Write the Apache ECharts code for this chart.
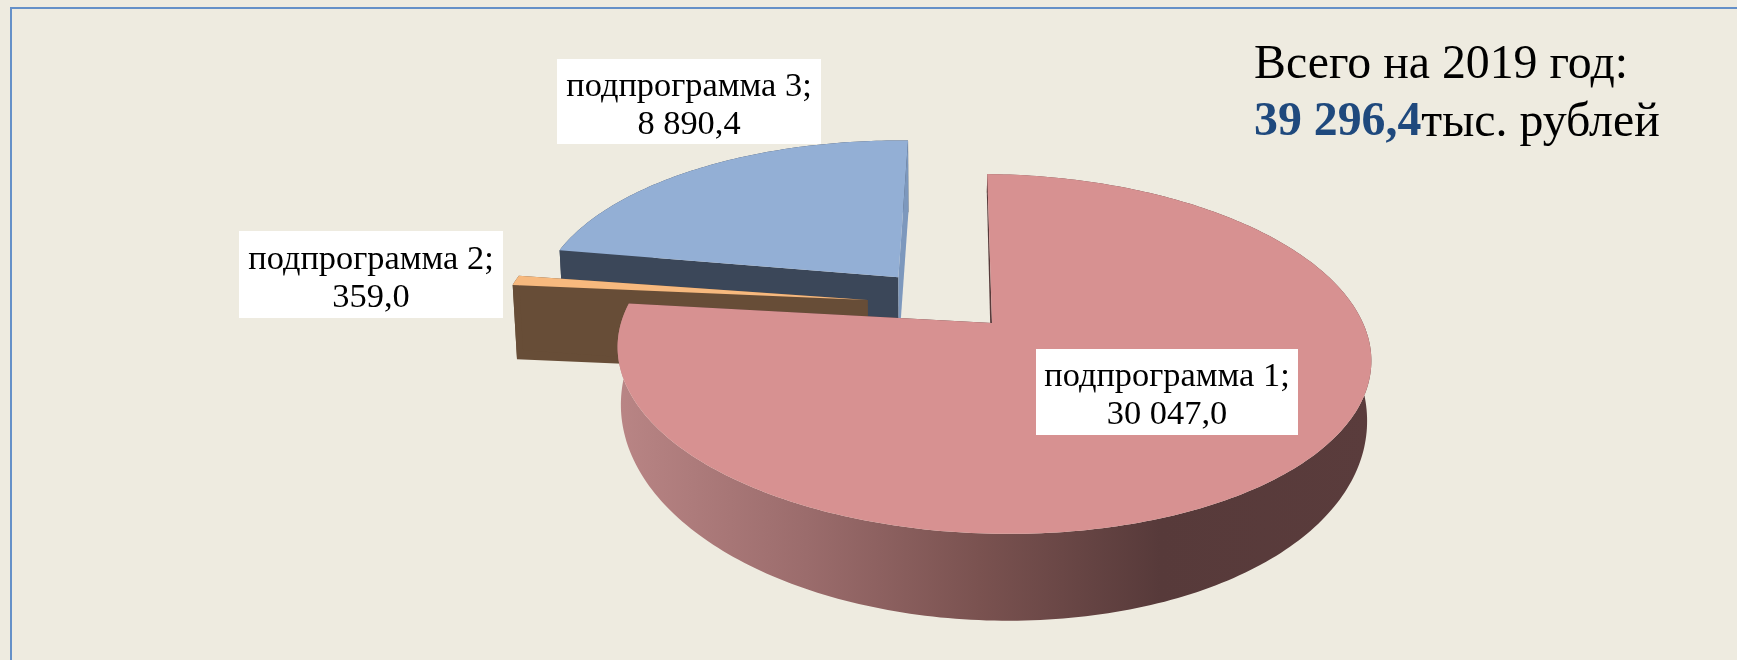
<!DOCTYPE html>
<html>
<head>
	<meta charset="UTF-8">
	<script type="text/javascript" src="https://cdn.jsdelivr.net/npm/echarts@6/dist/echarts.min.js"></script>
	<title></title>
	<style type="text/css">
		html,body{
			margin:0;
			padding:0;
			background:#eeebe0;
		}
		#pie_box{
			width:1737px;
			height:660px;
		}
	</style>
</head>
<body>
<div id="pie_box"></div>
<script type="text/javascript">
// data
var names = ['подпрограмма 1', 'подпрограмма 2', 'подпрограмма 3'];
var values = [30047.0, 359.0, 8890.4];
var totalTitle = 'Всего на 2019 год:';
var totalUnit = 'тыс. рублей';

// look of each slice, same order as values
var topColors = ['#d79191', '#f7b97e', '#93afd5'];
var cutColors = ['#573a3a', '#674d37', '#3b4759'];
var backColors = ['#573a3a', '#674d37', '#7d98bd'];
var explodeX = [0, -0.338, -0.254];
var explodeY = [0, -0.135, -0.275];
var nudgeDeg = [0, -1.3, 0.2];
var zOrder = [30, 20, 10];
var labelBoxes = [[1036, 349, 262, 86], [239, 231, 264, 87], [557, 59, 264, 85]];
// height of the wall, front of the big slice looks taller than its sides
var dropBase = [53, 74, 70];
var dropTilt = [36, 0, 0];

// fake 3d pie: unit disc seen in perspective
var cx = 992, cy = 323, rx = 371, ry = 174.6, shear = 14, persp = 0.172;
var shrink = 0.99, vanishX = 945;
var startDeg = 1.3;
var serif = '"Liberation Serif"';

var total = values.reduce(function (a, b) { return a + b; }, 0);

function project(x, y, drop) {
	var w = 1 - persp * y;
	var px = cx + (rx * x + shear * y) / w;
	var py = cy + ry * y / w;
	if (drop !== undefined) {
		px = vanishX + (px - vanishX) * shrink;
		py = cy + (py - cy) * shrink + drop;
	}
	return [px, py];
}

function formatValue(v) {
	var parts = v.toFixed(1).split('.');
	return parts[0].replace(/\B(?=(\d{3})+$)/g, ' ') + ',' + parts[1];
}

function renderSlice(params, api) {
	var i = params.dataIndex;
	var from = api.value(1) + nudgeDeg[i], to = api.value(2) + nudgeDeg[i];
	var ox = explodeX[i], oy = explodeY[i];
	var base = zOrder[i];
	var kids = [];

	function rimPoint(deg, low) {
		var a = deg * Math.PI / 180;
		var x = Math.sin(a), y = -Math.cos(a);
		return project(ox + x, oy + y, low ? dropBase[i] + dropTilt[i] * y : undefined);
	}
	function rim(low) {
		var pts = [];
		var n = Math.ceil(to - from);
		for (var k = 0; k <= n; k++) {
			pts.push(rimPoint(from + (to - from) * k / n, low));
		}
		return pts;
	}
	var hub = project(ox, oy);
	var hubLow = project(ox, oy, dropBase[i]);

	function wall(deg, color, order) {
		kids.push({
			type: 'polygon', z2: base + order,
			shape: { points: [hub, rimPoint(deg, false), rimPoint(deg, true), hubLow] },
			style: { fill: color }
		});
	}

	var wallFill = cutColors[i];
	if (i === 0) {
		// outer wall of the big slice goes from light to dark
		wallFill = new echarts.graphic.LinearGradient(0, 0, 1, 0, [
			{ offset: 0, color: '#b98585' },
			{ offset: 0.25, color: '#9b6c6c' },
			{ offset: 0.48, color: '#7a5250' },
			{ offset: 0.72, color: '#573a3a' },
			{ offset: 1, color: '#5a3c3c' }
		]);
	}
	var rimHigh = rim(false);
	kids.push({
		type: 'polygon', z2: base + 1,
		shape: { points: rimHigh.concat(rim(true).reverse()) },
		style: { fill: wallFill }
	});
	wall(from, cutColors[i], 2);
	wall(to, backColors[i], 2);
	kids.push({
		type: 'polygon', z2: base + 4,
		shape: { points: [hub].concat(rimHigh) },
		style: { fill: topColors[i] }
	});

	var box = labelBoxes[i];
	kids.push({
		type: 'rect', z2: 100,
		shape: { x: box[0], y: box[1], width: box[2], height: box[3] },
		style: { fill: '#ffffff' }
	});
	kids.push({
		type: 'text', z2: 101,
		x: box[0] + box[2] / 2,
		y: box[1] + box[3] / 2 + 4,
		style: {
			text: names[i] + ';\n' + formatValue(api.value(0)),
			fill: '#000000',
			font: '34.4px ' + serif,
			lineHeight: 38,
			align: 'center',
			verticalAlign: 'middle'
		}
	});
	return { type: 'group', children: kids };
}

var rows = [];
var acc = startDeg;
values.forEach(function (v) {
	var sweep = v / total * 360;
	rows.push([v, acc, acc + sweep]);
	acc += sweep;
});

var pie_box = echarts.init(document.getElementById('pie_box'));
var option = {
	backgroundColor: '#eeebe0',
	animation: false,
	graphic: [
		{
			type: 'polyline', silent: true,
			shape: { points: [[11, 670], [11, 8], [1747, 8]] },
			style: { stroke: '#6590c8', lineWidth: 2, fill: null }
		},
		{
			type: 'text', silent: true, left: 1254, top: 36,
			style: {
				text: totalTitle + '\n{num|' + formatValue(total) + '}' + totalUnit,
				fill: '#000000',
				font: '47.8px ' + serif,
				lineHeight: 58,
				rich: {
					num: { font: 'bold 47.8px ' + serif, fill: '#1f497d', lineHeight: 58 }
				}
			}
		}
	],
	series: [{
		type: 'custom',
		coordinateSystem: 'none',
		silent: true,
		renderItem: renderSlice,
		data: rows
	}]
};
pie_box.setOption(option);
</script>
</body>
</html>
